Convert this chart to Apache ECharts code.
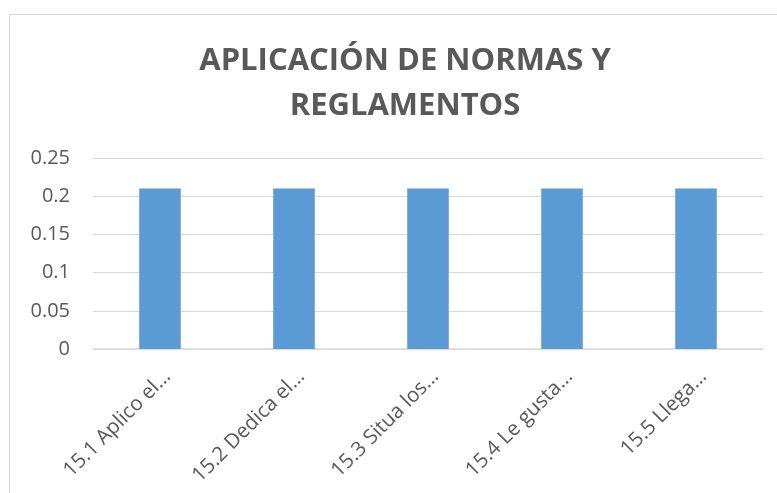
<!DOCTYPE html>
<html>
<head>
<meta charset="utf-8">
<script src="https://cdn.jsdelivr.net/npm/echarts@6/dist/echarts.min.js"></script>
<style>
html,body{margin:0;padding:0;background:#fff;}
#chart{width:777px;height:493px;}
</style>
</head>
<body>
<div id="chart"></div>
<script>
// datos
var categorias = ['15.1 Aplico el…', '15.2 Dedica el…', '15.3 Situa los…', '15.4 Le gusta…', '15.5 Llega…'];
var valores = [0.21, 0.21, 0.21, 0.21, 0.21];
var ticksY = [0, 0.05, 0.1, 0.15, 0.2, 0.25];

var myChart = echarts.init(document.getElementById('chart'));
var option = {
    animation: false,
    textStyle: {fontFamily: 'Open Sans'},
    graphic: [{
        type: 'rect',
        shape: {x: 9.5, y: 14.5, width: 800, height: 520},
        style: {fill: 'none', stroke: '#d9d9d9', lineWidth: 1},
        silent: true
    }],
    title: {
        text: 'APLICACIÓN DE NORMAS Y\nREGLAMENTOS',
        left: 400,
        textAlign: 'center',
        top: 34,
        textStyle: {fontSize: 31, fontWeight: 'bold', color: '#595959', lineHeight: 45, fontFamily: 'Open Sans'}
    },
    grid: {left: 93, right: 14, top: 158, bottom: 144},
    xAxis: {
        type: 'category',
        data: categorias,
        axisLine: {lineStyle: {color: '#d9d9d9', width: 1.5}},
        axisTick: {show: false},
        axisLabel: {rotate: 45, fontSize: 20.5, color: '#595959', margin: 17, interval: 0, verticalAlign: 'top'}
    },
    yAxis: {
        type: 'value',
        min: ticksY[0],
        max: ticksY[ticksY.length - 1],
        interval: 0.05,
        axisLine: {show: false},
        axisTick: {show: false},
        splitLine: {lineStyle: {color: '#d9d9d9'}},
        axisLabel: {fontSize: 20, color: '#595959', margin: 23}
    },
    series: [{
        type: 'bar',
        data: valores,
        barWidth: '31%',
        itemStyle: {color: '#5b9bd5'}
    }]
};
myChart.setOption(option);
</script>
</body>
</html>
